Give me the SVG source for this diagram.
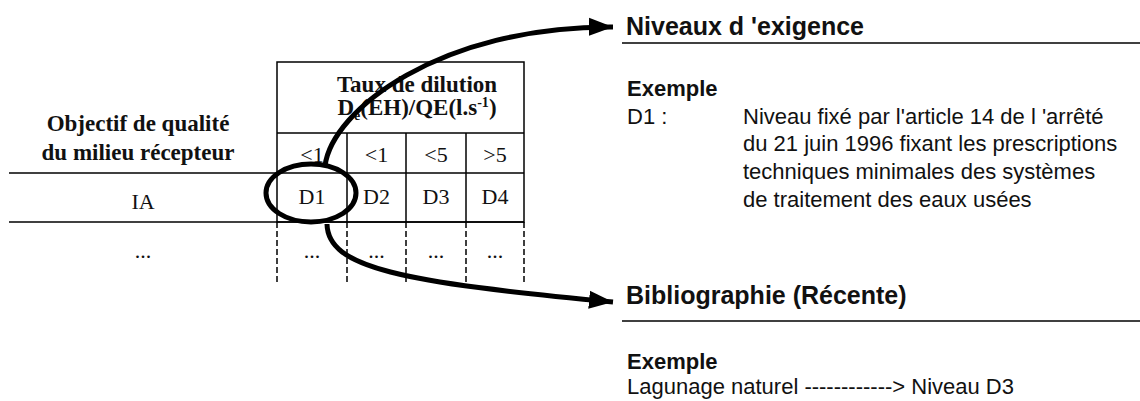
<svg xmlns="http://www.w3.org/2000/svg" width="1140" height="401" viewBox="0 0 1140 401">
<defs>
<marker id="ah" markerUnits="userSpaceOnUse" markerWidth="26" markerHeight="20" refX="24" refY="10" orient="auto"><path d="M0,1 L24,10 L0,19 Z" fill="#000"/></marker>
</defs>
<style>
.tb{font-family:"Liberation Serif","Times New Roman",serif;font-weight:bold;font-size:23px;fill:#111}
.tr{font-family:"Liberation Serif","Times New Roman",serif;font-size:22px;fill:#111}
.h{font-family:"Liberation Sans",Arial,sans-serif;font-weight:bold;font-size:25px;fill:#111}
.b{font-family:"Liberation Sans",Arial,sans-serif;font-weight:bold;font-size:22px;fill:#111}
.r{font-family:"Liberation Sans",Arial,sans-serif;font-size:22px;fill:#111}
.ln{stroke:#000;stroke-width:1.5;fill:none}
.dl{stroke:#000;stroke-width:1.5;stroke-dasharray:6 3;fill:none}
.arc{stroke:#000;stroke-width:5;fill:none}
.c{text-anchor:middle}
</style>
<g id="table">
<rect class="ln" x="277" y="62" width="247" height="160"/>
<line class="ln" x1="277" y1="133" x2="524" y2="133"/>
<line class="ln" x1="9" y1="173" x2="524" y2="173"/>
<line class="ln" x1="9" y1="222" x2="524" y2="222"/>
<line class="ln" x1="347" y1="133" x2="347" y2="222"/>
<line class="ln" x1="406" y1="133" x2="406" y2="222"/>
<line class="ln" x1="466" y1="133" x2="466" y2="222"/>
<line class="dl" x1="277" y1="222" x2="277" y2="282"/>
<line class="dl" x1="347" y1="222" x2="347" y2="282"/>
<line class="dl" x1="406" y1="222" x2="406" y2="282"/>
<line class="dl" x1="466" y1="222" x2="466" y2="282"/>
<line class="dl" x1="524" y1="222" x2="524" y2="282"/>
<text class="tb c" x="138" y="131">Objectif de qualité</text>
<text class="tb c" x="138" y="160">du milieu récepteur</text>
<text class="tb c" x="417" y="92" font-size="22.5">Taux de dilution</text>
<text class="tb c" x="417" y="115" font-size="22.5">D<tspan font-size="14" dy="5">e</tspan><tspan dy="-5">(EH)/QE(l.s</tspan><tspan font-size="14" dy="-8">-1</tspan><tspan dy="8">)</tspan></text>
<text class="tr c" x="312" y="162">&lt;1</text>
<text class="tr c" x="376.5" y="162">&lt;1</text>
<text class="tr c" x="436" y="162">&lt;5</text>
<text class="tr c" x="495" y="162">&gt;5</text>
<text class="tr c" x="143" y="209">IA</text>
<text class="tr c" x="312" y="204">D1</text>
<text class="tr c" x="376.5" y="204">D2</text>
<text class="tr c" x="436" y="204">D3</text>
<text class="tr c" x="495" y="204">D4</text>
<text class="tr c" x="143" y="258">...</text>
<text class="tr c" x="312" y="258">...</text>
<text class="tr c" x="376.5" y="258">...</text>
<text class="tr c" x="436" y="258">...</text>
<text class="tr c" x="495" y="258">...</text>
</g>
<g id="highlight">
<ellipse class="arc" cx="311" cy="193" rx="45" ry="29"/>
</g>
<g id="niveaux">
<text class="h" x="626" y="35">Niveaux d 'exigence</text>
<line class="ln" x1="622" y1="43" x2="1140" y2="43"/>
<text class="b" x="627" y="96">Exemple</text>
<text class="r" x="627" y="124">D1 :</text>
<text class="r" x="743" y="124">Niveau fixé par l'article 14 de l 'arrêté</text>
<text class="r" x="743" y="151">du 21 juin 1996 fixant les prescriptions</text>
<text class="r" x="743" y="179">techniques minimales des systèmes</text>
<text class="r" x="743" y="207">de traitement des eaux usées</text>
</g>
<g id="biblio">
<text class="h" x="626" y="304">Bibliographie (Récente)</text>
<line class="ln" x1="622" y1="321" x2="1140" y2="321"/>
<text class="b" x="627" y="369">Exemple</text>
<text class="r" x="627" y="394">Lagunage naturel ------------&gt; Niveau D3</text>
</g>
<g id="connectors">
<path class="arc" d="M325,166 C332,110 440,26 613,27" marker-end="url(#ah)"/>
<path class="arc" d="M327,224 C328,268 400,282 613,302" marker-end="url(#ah)"/>
</g>
</svg>
